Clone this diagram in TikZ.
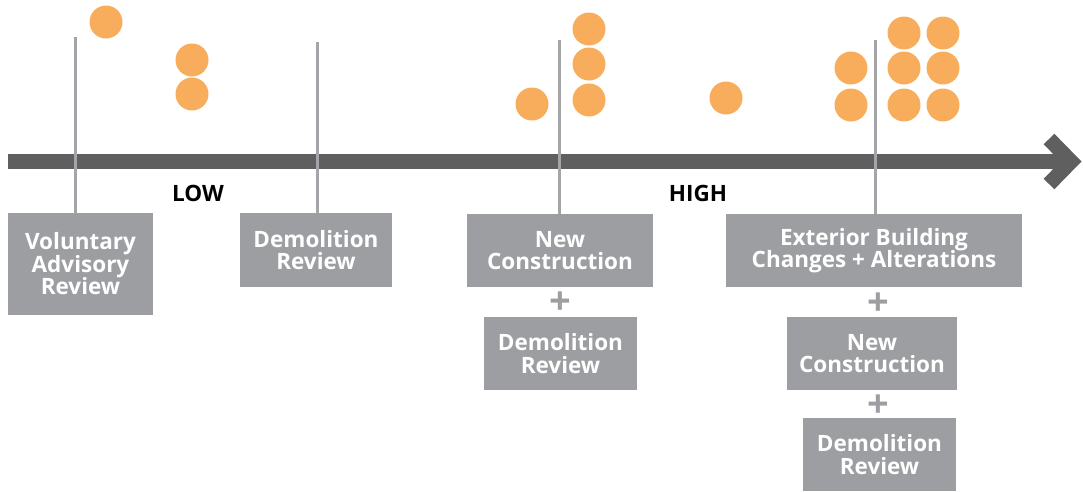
\documentclass[tikz,border=0pt]{standalone}
\usepackage{fontspec}
\setmainfont{Open Sans}
\usetikzlibrary{positioning}
\definecolor{boxgray}{HTML}{9D9EA1}
\definecolor{bargray}{HTML}{5F5F5F}
\definecolor{linegray}{HTML}{A4A5A8}
\definecolor{dotorange}{HTML}{F8AD5C}
\tikzset{
	review/.style={rectangle,fill=boxgray,text=white,inner sep=0pt,align=center,font=\fontsize{22.5}{22.5}\selectfont\bfseries},
	level/.style={font=\fontsize{22.5}{22}\selectfont\bfseries,text=black},
	plus/.style={font=\fontsize{38}{38}\selectfont\bfseries,text=boxgray,inner sep=0pt},
	stem/.style={draw=linegray,line width=3pt},
	dot/.style={circle,fill=dotorange,inner sep=0pt,minimum size=33pt},
	axis/.style={draw=bargray,line width=15pt},
}
\begin{document}
\begin{tikzpicture}[x=1pt,y=-1pt]
\useasboundingbox (0,0) rectangle (1083,491);

% the scale
\coordinate (a0) at (8,161.5);
\coordinate (a1) at (1068,161.5);
\draw[axis] (a0) -- (a1);
\draw[axis,line join=miter] (1049,139) -- (1071,161.5) -- (1049,184);

\node[level] (low) at (198,193) {LOW};
\node[level] (high) at (698,193) {HIGH};

% review boxes
\node[review,minimum width=145pt,minimum height=102pt] (b1) at (80.5,264) {Voluntary\\Advisory\\Review};
\node[review,minimum width=152pt,minimum height=74pt] (b2) at (316,250) {Demolition\\Review};
\node[review,minimum width=186pt,minimum height=73pt] (b3) at (560,250.5) {New\\Construction};
\node[review,minimum width=153pt,minimum height=73pt] (b4) at (560.5,353.5) {Demolition\\Review};
\node[review,minimum width=296pt,minimum height=73pt] (b5) at (874,250.5) {Exterior Building\\Changes + Alterations};
\node[review,minimum width=170pt,minimum height=73pt] (b6) at (872,353.5) {New\\Construction};
\node[review,minimum width=153pt,minimum height=73pt] (b7) at (879.5,454.5) {Demolition\\Review};

\node[plus] (p1) at (560,303) {+};
\node[plus] (p2) at (878,304) {+};
\node[plus] (p3) at (878,406) {+};

% stems
\coordinate (t1) at (75,37);
\coordinate (t2) at (317,42);
\coordinate (t3) at (559,40);
\coordinate (t4) at (875,40);
\draw[stem] (t1) -- (t1 |- b1.north);
\draw[stem] (t2) -- (t2 |- b2.north);
\draw[stem] (t3) -- (t3 |- b3.north);
\draw[stem] (t4) -- (t4 |- b5.north);

% dots
\foreach \x/\y [count=\i] in {106/22,192/60,192/94,532/104,589/29,589/64,589/100,726/98,
	851/68,851/105,904/33,904/68,904/105,943/33,943/68,943/105}
	\node[dot] (d\i) at (\x,\y) {};
\end{tikzpicture}
\end{document}
